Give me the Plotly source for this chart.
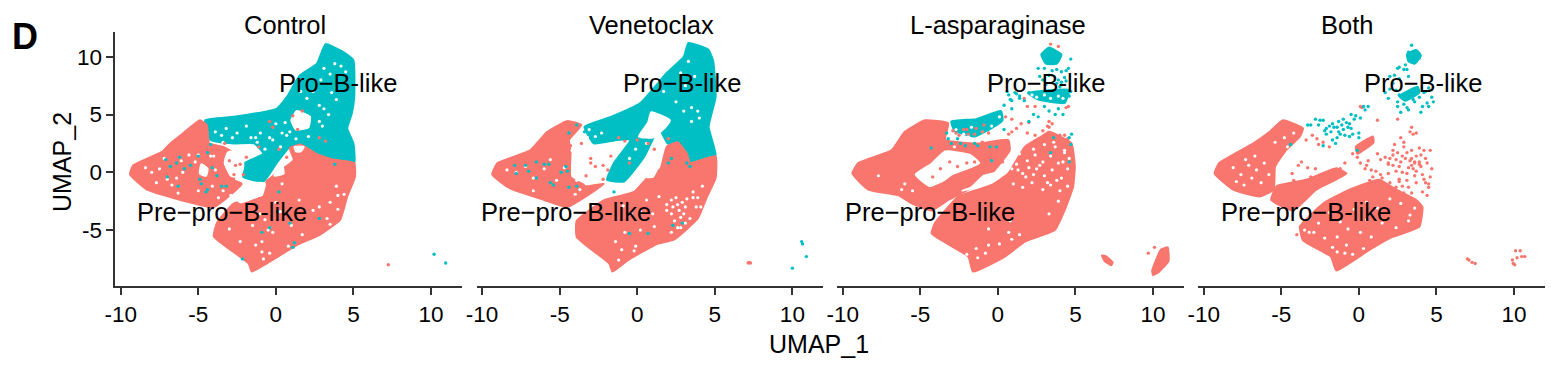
import plotly.graph_objects as go

PINK = "#F8766D"
TEAL = "#00BFC4"
panel_names = ["Control", "Venetoclax", "L-asparaginase", "Both"]
tick_values = [-10, -5, 0, 5, 10]
y_tick_values = [-5, 0, 5, 10]

# Hand-traced outlines of the solid parts of each cloud (UMAP_1, UMAP_2); not individual cells
control_teal = [[(3.2,11.1),(4.35,10.4),(5.0,9.7),(5.05,6.5),(4.9,5.1),(4.6,3.8),(5.0,2.5),(5.05,0.8),(3.7,1.0),(2.6,1.6),(1.6,2.4),(0.9,2.2),(0.05,0.8),(-0.8,-0.8),(-2.1,-0.4),(-2.0,0.8),(-0.8,1.6),(-1.4,2.5),(-2.7,2.5),(-4.2,2.8),(-4.55,4.5),(-2.7,4.8),(0.05,5.5),(0.7,6.5),(1.55,8.4),(2.65,9.4)]]
control_pink = [[(-9.4,-0.2),(-9.2,0.6),(-7.3,1.8),(-6.8,2.5),(-5.95,3.4),(-4.9,4.5),(-4.45,4.1),(-4.3,2.5),(-3.4,2.2),(-2.2,1.2),(-2.7,-0.65),(-2.2,-1.0),(-4,-3),(-6.15,-2.4),(-8.3,-1.5)],
                [(5.05,0.8),(5.1,-0.4),(4.6,-2.1),(4.15,-4.1),(2.85,-5.4),(1.35,-6.3),(-0.6,-7.9),(-1.55,-8.6),(-1.75,-7.9),(-4,-5.55),(-3.8,-4.4),(-2.7,-2.7),(-0.8,-2.1),(-0.6,-0.8),(1.15,1.05),(0.9,2.1),(1.6,2.4),(2.6,1.6),(3.7,1.1)]]
control_holes = [[(1.35,5.3),(2.2,4.8),(2.1,3.9),(1.3,3.7),(1.0,4.5)],
                 [(-3.1,1.7),(-2.2,1.9),(-2.1,0.5),(-2.3,-0.4),(-2.9,-0.3),(-3.3,0.8)],
                 [(-4.8,0.7),(-4.4,0.3),(-4.5,-0.3),(-4.9,-0.1)],
                 [(-2.5,-2.3),(-1.1,-0.9),(-0.7,-1.0),(-0.9,-1.9),(-2.3,-2.6)],
                 [(0.4,0.7),(0.5,-0.1),(-0.1,-0.3)],
                 [(1.2,2.2),(1.8,2.2),(1.6,1.8),(1.3,1.8)]]
control_gaps_x = [1.6,2.0,2.4,2.8,3.1,3.4,2.8,3.0,-0.4,-0.2,-1.2,-1.6,0.4,0.7,3.8,4.2,3.5,4.5,3.1,-2.5,-3.2,-1.9,0.0,1.3,4.0,3.5,4.0,2.4,1.0,-0.2,-0.4,-0.9,0.8,2.8,-8.0,-7.5,-7.0,-6.0,-6.4,-5.2,-5.6,-7.7,-3.4,-3.7,-4.1,-0.5,-0.9,0.3,1.7,3.3,-2.3,-1.5,-1.0,-3.0,-3.4,-2.9,0.6,0.9,0.3,-0.7,-1.0,-1.3,-2.8,-3.5,-3.9,-4.0,-6.7,-6.1,-5.0,-8.4,-7.2,-6.3,-5.0,-4.2,-3.9,3.6,3.9,2.9,2.1,1.5,0.4,-0.8,-1.3,-0.7,0.0,3.5,3.9,4.4]
control_gaps_y = [7.0,6.4,7.0,5.8,5.5,5.0,4.4,4.0,3.0,2.8,2.6,3.0,3.4,3.2,9.4,9.2,8.5,8.7,9.0,3.4,3.8,4.0,4.2,2.9,-2.0,-2.6,-3.2,-3.3,-4.6,-5.2,-7.0,-6.9,-6.4,-3.0,0.0,0.3,-0.6,0.0,-0.5,0.9,1.5,-0.9,-1.6,-2.2,-1.2,-5.0,-6.0,-3.4,-5.4,-4.0,-6.0,-4.6,-3.6,-4.9,2.6,-2.0,4.3,3.5,2.2,2.0,3.4,3.0,3.0,3.2,3.5,1.4,-1.1,1.0,-1.6,0.4,1.2,-1.8,1.5,1.4,0.2,6.9,6.3,8.0,3.1,-2.4,-1.0,-7.5,-6.3,-4.1,-2.6,-4.5,-1.2,-1.9]
control_pink_x = [7.25,0.2,0.7,1.4,1.7,2.8,-1.1,-2.6,-3.3,-0.4,-0.2,1.1,3.2,3.9,4.4,-1.9,-2.3,-2.7,-3.0,-3.3,-2.1]
control_pink_y = [-8.0,2.0,1.3,3.7,5.3,3.0,2.2,0.6,2.5,4.4,3.9,4.9,2.7,1.0,0.7,1.3,0.7,-0.2,1.0,0.1,-0.2]
control_teal_x = [10.2,10.95,-2.15,-7.1,-6.8,-6.4,-6.2,-5.9,-7.0,-6.3,-4.9,-4.8,-5.0,-4.4,-4.1,-3.8,-3.5,-3.2,-4.4,-4.5,-4.2,0.2,0.9,1.2,1.1,2.8,3.8,-0.4,-0.9,-5.5,0.1]
control_teal_y = [-7.1,-7.85,-7.5,1.1,0.5,0.8,1.3,0.3,-0.4,-1.2,-0.6,-1.0,1.4,1.7,0.4,-0.3,-1.2,-1.2,-1.5,-1.7,2.4,-1.7,-4.4,-6.1,-6.5,-4.0,0.7,-4.8,-5.2,0.6,-3.4]

venetoclax_teal = [[(3.3,11.2),(4.6,10.6),(4.9,9.6),(5.05,6.5),(4.6,3.95),(5.05,1.5),(4.5,0.8),(3.2,0.8),(2.8,2.2),(1.95,2.5),(1.4,3.8),(0.45,1.35),(-0.85,-0.8),(-1.95,-0.65),(-1.5,0.8),(-0.45,2.8),(-1.3,2.8),(-2.8,2.5),(-3.4,3.95),(-1.7,4.8),(0.2,6.0),(1.9,8.6),(3,10)]]
venetoclax_pink = [[(-9.35,-0.2),(-9,0.8),(-6.9,1.9),(-5.8,3.5),(-4.5,4.45),(-3.6,4.1),(-4.4,2.8),(-4.3,1.8),(-4.3,-0.4),(-3.2,-1.2),(-2.15,-1),(-4.5,-3),(-6,-2.4),(-8.2,-1.4)],
                   [(5.05,1.4),(5.05,-0.5),(4.5,-2.1),(3.9,-4),(2.4,-5.8),(1.3,-6.2),(-0.6,-7.6),(-1.6,-8.6),(-1.8,-7.9),(-3.9,-5.6),(-3.9,-4.2),(-2.1,-2.4),(-0.2,-1.7),(0.7,-0.4),(1.5,0.3),(1.9,2.2),(2.6,2.6),(3.2,1.6),(3.4,0.8)]]
venetoclax_holes = [[(0.9,5.2),(2.1,4.5),(1.8,3.9),(1.0,3.0),(0.1,3.1),(0.7,4.3)],
                    [(-3.5,1.6),(-2.7,2.0),(-1.9,1.4),(-2.6,0.5),(-3.2,0.0)],
                    [(-1.5,-1.1),(-0.6,-1.1),(-1.0,-1.6),(-1.8,-1.9)],
                    [(0.5,0.5),(1.3,0.4),(1.0,-0.4),(0.6,-0.4)]]
venetoclax_gaps_x = [1.7,2.8,3.3,3.7,3.1,2.5,3.0,-3.6,-3.1,-2.3,-4.0,-4.2,-3.2,-2.7,-1.0,-0.5,-0.1,0.6,1.3,-1.4,-1.0,-0.1,0.2,1.1,2.6,3.4,3.9,-7.8,-7.2,-6.7,-6.0,-5.2,-5.6,-6.7,-3.7,-4.0,-0.8,-0.2,-1.2,3.6,3.8,4.1,4.2,3.6,1.0,0.2,3.5,3.9,4.0,3.5,2.2,2.5,2.9,3.1,2.3,2.7,3.0,1.9,2.2,2.6,2.8,3.2,2.4,3.1,1.9,2.8,-8.4,-4.7,-3.9,-3.3,-0.4,-0.9,0.6,1.4,2.2]
venetoclax_gaps_y = [7.0,8.6,9.6,8.3,7.5,6.1,5.3,3.3,3.7,3.4,2.4,1.9,3.0,3.1,2.1,1.2,2.0,2.5,3.0,-6.0,-6.7,-6.4,-5.0,-4.7,-4.8,-4.0,-2.2,0.0,0.5,-0.5,0.3,-0.7,1.1,-1.6,-1.5,-1.9,-5.2,-6.8,-7.6,-1.7,-3.0,-3.0,-1.2,-2.2,-3.6,-3.4,5.6,5.3,4.7,4.4,-2.4,-2.2,-2.6,-3.0,-3.0,-3.3,-3.6,-2.8,-3.6,-2.8,-3.9,-2.3,-4.2,-4.4,-3.3,-4.8,0.2,0.4,-0.7,-1.0,-3.6,-2.9,-2.4,-2.1,-5.2]
venetoclax_pink_x = [7.2,7.15,7.3,-4.3,-3.6,-3.0,-2.7,-1.2,-0.8,0.0,0.7,1.1,-3.0,-3.3,-2.2,-1.9,-2.2,-4.4,-1.7,-0.5,1.9,2.0]
venetoclax_pink_y = [-7.8,-7.85,-7.85,2.3,2.5,1.2,0.5,3.0,2.7,2.8,2.5,2.0,0.8,-0.3,0.6,0.2,-0.6,0.4,1.4,0.8,-1.0,2.9]
venetoclax_teal_x = [10.6,10.65,10.9,10.0,-7.9,-7.2,-6.5,-6.0,-5.7,-7.8,-7.0,-6.5,-5.6,-5.4,-4.6,-4.5,-4.4,-3.9,-4.4,-3.4,-3.9,-4.9,2.3,2.9,-0.5,0.7,2.2,3.2,3.4,2.0,-1.5]
venetoclax_teal_y = [-6.0,-6.2,-7.3,-8.3,0.6,0.6,0.9,0.7,0.7,-0.1,0.1,-0.5,-0.9,-1.1,0.5,0.1,-1.3,-1.2,3.4,3.5,4.1,0.0,-4.6,-4.4,-5.3,-5.3,1.2,0.8,0.5,0.8,-1.7]

asparaginase_teal = [[(2.8,10.2),(3.3,10.8),(4.1,10.2),(3.8,9.4),(3.1,9.4)],
                     [(1.95,6.85),(3.3,7.1),(4.6,7.15),(4.3,6.0),(2.6,6.3)],
                     [(-3.0,4.4),(-1.4,4.6),(0.2,5.3),(0.3,4.5),(-0.7,3.6),(-1.5,3.1),(-2.8,3.6)]]
asparaginase_pink = [[(-9.38,-0.1),(-9,0.8),(-6.85,1.9),(-6,3.5),(-4.7,4.5),(-3.2,4.25),(-3.4,2.8),(-1.27,2.5),(0.67,2.8),(0.77,1.9),(-0.4,-0.1),(-1.9,-1.5),(-3.2,-2.4),(-4.27,-3.3),(-5.56,-2.7),(-6.4,-2),(-8.35,-1.5)],
                     [(0.67,-0.1),(1.74,2.2),(2.8,3.1),(3.3,3.5),(4.74,2.5),(4.96,0.5),(4.85,-1.25),(4.3,-3.3),(3.67,-5),(1.74,-6),(0.45,-7.3),(-1.6,-8.6),(-1.9,-7.3),(-4.27,-5.3),(-4.05,-4.4),(-2.55,-2.1),(-0.4,-1.1)],
                     [(6.7,-7.2),(7.0,-7.3),(7.4,-7.8),(7.3,-8.05),(6.9,-7.7)],
                     [(10.5,-6.7),(10.95,-6.5),(11,-7.7),(10.4,-8.6),(10,-8.9),(9.95,-8.5),(10.2,-7.6)]]
asparaginase_holes = [[(-3.4,1.8),(-1.8,1.5),(-1.2,0.8),(-3,-0.2),(-3.5,-0.7),(-4.4,-1.2),(-5.3,-0.2),(-4.3,0.7)],
                      [(-0.2,-0.65),(0.2,0.0),(-0.9,-0.3),(-1.7,-1.3),(-2.3,-1.6),(-1.4,-1.3)]]
asparaginase_gaps_x = [1.4,1.9,2.4,2.9,3.4,3.9,4.3,1.3,1.8,2.5,3.0,3.5,4.1,4.5,1.0,1.6,2.2,2.9,3.4,4.0,4.5,2.3,3.0,3.7,4.3,-0.8,-1.4,-2.0,-1.3,-0.6,0.1,0.9,-7.7,-6.2,-5.5,-6.0,-2.8,0.7,1.4,-0.6,3.3,0.8,3.9,1.2,2.0,2.7,3.2,3.8,1.6,2.3,4.2,0.9,3.6,4.6,-2.7,-2.2,-1.7,-1.0,-0.4,-2.9,-1.9,-0.9,-0.2,0.1,2.2,2.5,3.0,3.4,3.9,4.2]
asparaginase_gaps_y = [1.6,1.0,1.5,0.9,1.4,0.8,1.7,0.2,-0.4,0.3,-0.3,0.2,-0.5,0.3,-1.0,-1.3,-0.9,-1.5,-1.1,-1.6,-1.2,2.0,2.4,2.2,1.9,-7.0,-6.6,-7.1,-7.4,-6.3,-6.2,-5.8,-0.3,-1.5,-1.6,-1.0,2.2,-5.2,-5.4,-4.9,-3.6,-4.2,-2.5,0.7,0.4,0.6,-0.9,-0.7,-0.1,-0.2,0.9,0.3,2.6,1.2,3.7,3.3,3.9,3.5,4.0,3.0,3.1,3.0,3.6,4.8,6.7,6.5,6.7,6.4,6.6,6.4]
asparaginase_pink_x = [1.2,1.9,0.9,0.7,3.3,3.5,4.3,4.5,2.9,3.2,2.4,2.9,0.5,0.9,1.5,2.0,3.4,3.9,4.4,9.7,10.1,-1.0,-0.7,-0.2,0.3,4.55,4.5,3.3,3.6,4.0,2.4,1.9,1.7,-2.9,-2.5,-2.0,-1.5,-1.0,-2.7,-2.2,-1.4,-0.9,-0.6,-1.9,-4.2,-3.7,-3.1,-2.6,-2.0,-1.5]
asparaginase_pink_y = [3.8,3.4,4.6,3.3,3.9,4.2,3.2,2.8,3.6,4.0,3.2,3.0,4.8,3.5,4.2,4.3,11.1,10.9,5.6,-7.0,-6.5,2.6,1.6,1.1,0.9,5.7,2.9,4.4,3.3,3.2,5.7,5.7,6.4,3.6,3.2,3.7,3.3,3.5,3.4,3.7,3.8,4.1,3.4,3.3,-0.4,0.3,0.9,0.5,0.8,0.9]
asparaginase_teal_x = [4.7,4.55,4.4,4.75,4.6,4.7,4.6,3.8,4.1,4.3,3.5,3.9,4.1,2.6,2.7,3.0,3.3,2.9,3.1,3.8,4.0,4.4,3.0,3.3,3.7,4.2,3.9,2.3,2.6,2.0,1.2,0.6,0.9,1.4,0.4,0.9,0.4,-4.3,-3.2,-3.0,-2.6,-2.4,-2.1,-1.5,-1.3,-0.5,-0.1,-0.4,-3.3,3.4,3.6,1.4,1.7,2.0,4.6,4.7,0.7,0.8,1.1]
asparaginase_teal_y = [9.8,9.0,8.8,3.3,3.0,2.4,0.9,8.9,8.7,8.2,8.8,8.0,7.8,9.0,8.3,9.0,8.4,8.0,7.6,7.7,7.4,7.9,5.7,5.3,5.0,5.0,5.5,5.0,4.8,4.4,6.8,7.0,6.2,6.4,5.8,5.5,3.7,2.1,2.9,2.5,2.9,2.5,2.3,2.5,2.3,2.2,2.2,1.0,3.4,1.7,3.0,6.6,6.2,6.9,6.6,7.0,6.7,6.3,6.9]

both_teal = [[(3.1,10.2),(3.7,10.6),(4.0,10.1),(3.6,9.4),(3.2,9.6)],
             [(2.6,6.6),(3.8,7.4),(3.9,6.9),(3.0,6.2)]]
both_pink = [[(-9.3,-0.1),(-9,0.8),(-6.8,2.5),(-5.75,3.5),(-4.9,4.5),(-3.6,3.8),(-3.8,3.1),(-4.7,1.9),(-5.4,0.5),(-5.5,-1.5),(-6.4,-2.1),(-8.1,-1.5)],
             [(-5.65,-2.4),(-5.3,-1.2),(-3.4,-0.65),(-1.45,0.35),(-0.8,-0.1),(-2.75,-1.5),(-4.25,-3.3)],
             [(-0.2,2.2),(0.9,3.1),(0.95,2.6),(-0.1,1.6)],
             [(-3.8,-4.7),(-2.3,-2.7),(-0.6,-1.5),(1.3,-0.65),(2.4,-1.5),(3.7,-2.4),(4.1,-3),(3.9,-4.7),(2,-5.7),(0.7,-6.7),(-1.45,-8.5),(-1.8,-7.3),(-3.6,-5.9)]]
both_holes = []
both_gaps_x = [-8.1,-7.6,-7.1,-6.6,-7.9,-7.4,-6.9,-6.3,-7.3,-6.7,-6.1,-5.8,-5.4,-4.8,-4.2,-4.6,-1.2,-1.9,-2.6,-3.2,-0.3,0.5,1.2,2.0,2.7,3.3,-2.2,-1.4,-0.8,0.1,0.8,1.5,2.4,3.2,3.6,-0.4,-0.9,-1.4,0.3,-0.7,0.5,-1.7,-3.2,-2.9,-3.5]
both_gaps_y = [0.4,-0.2,0.6,0.2,-0.8,-1.1,-0.5,-0.9,1.1,1.4,0.8,-0.2,2.6,3.0,3.4,2.2,-4.3,-3.5,-4.4,-5.2,-3.2,-2.6,-3.1,-2.3,-2.7,-3.7,-5.7,-5.6,-6.3,-5.2,-5.6,-4.4,-4.8,-4.2,-3.1,-7.1,-7.0,-6.9,-6.6,-4.9,-4.1,-6.5,-4.0,-5.2,-5.0]
both_pink_x = [-3.4,-3.0,-2.7,-2.3,-1.9,-2.6,-1.2,-0.9,0.6,1.2,2.5,3.4,3.7,3.3,2.7,2.2,2.9,3.5,3.9,4.2,4.6,4.7,4.6,4.5,4.1,3.7,3.2,2.6,1.9,1.5,0.9,0.4,0.1,-0.4,-0.1,1.0,1.4,1.9,2.4,2.9,3.4,4.0,4.2,4.4,-3.9,-4.3,-4.2,-3.7,-3.3,-3.6,-3.1,-2.8,7.0,7.1,7.3,7.5,10.1,10.4,10.7,9.9,10.2,10.5,9.95,10.05,-4.0,0.2,0.1,-4.1,0.7,1.1,1.5,2.0,2.6,3.1,3.6,4.1,4.4,4.3,3.9,3.4,2.9,2.3,1.7,1.2,0.8,0.5,4.0,3.6,4.5,4.3,2.0,2.8,3.4,1.4,0.9,2.2,2.5,2.8,3.1,3.4,3.7,2.0,2.4,2.7,3.0,3.3,3.6,3.9,1.9,2.2,2.6,3.2,3.5,2.4,2.8,3.1,3.7]
both_pink_y = [2.8,3.2,2.9,2.6,2.2,2.4,0.3,0.8,1.0,4.5,4.6,3.9,3.4,3.5,3.0,1.9,2.6,3.3,2.1,1.9,1.9,0.3,-0.4,-1.0,-1.7,-0.9,-1.3,-0.8,-0.1,-0.5,-0.4,0.3,0.8,1.6,1.3,-1.0,1.1,0.8,-1.3,-1.8,-1.8,0.5,-0.6,-2.0,0.6,-0.1,-0.7,0.9,0.4,-1.1,-0.4,0.3,-7.5,-7.6,-7.8,-7.9,-6.8,-6.8,-7.3,-7.6,-7.4,-7.3,-7.9,-8.0,-5.4,5.6,5.7,-1.5,-0.7,0.1,-0.9,-0.9,-0.6,-0.7,-0.3,-0.2,0.8,1.2,0.9,1.9,2.2,2.4,1.3,1.6,0.2,0.6,1.5,0.9,-1.3,-0.9,-1.5,-1.2,0.6,-0.2,-1.2,1.5,1.7,1.4,1.7,1.2,1.4,1.2,1.1,0.9,1.2,1.0,0.8,0.7,0.7,0.6,0.5,0.4,0.3,0.1,0.0,-0.1,0.1]
both_teal_x = [3.4,3.2,3.5,3.7,3.9,3.0,2.6,2.9,3.1,3.2,2.5,2.6,2.3,2.0,2.2,2.0,1.7,1.9,2.4,2.6,3.0,3.3,3.6,3.9,4.2,4.5,4.7,4.4,4.1,4.5,3.2,3.1,2.7,2.9,3.2,2.5,2.5,3.5,4.3,4.0,4.8,0.3,0.4,0.6,-0.2,-0.5,0.1,-0.3,-0.5,-1.0,-1.3,-1.0,-0.8,-1.6,-1.8,-2.1,-2.3,-2.5,-3.1,-3.3,-2.8,-1.4,-1.7,-2.1,-2.2,-1.7,-1.3,-0.6,0.0,0.0,-0.4,-1.5,-2.3,-0.1,-4.4,-1.1,-0.7,-1.4,-1.9,-0.9,-0.6,-1.2,-2.6]
both_teal_y = [11.0,10.4,10.2,9.7,9.9,9.3,9.1,8.9,8.9,8.3,9.0,8.1,8.4,8.3,7.7,7.2,6.9,6.4,7.1,6.7,6.4,6.9,6.1,6.5,6.9,7.3,6.5,6.0,5.7,5.7,6.5,5.6,5.2,5.9,5.4,6.1,5.7,6.3,7.0,5.2,6.1,5.7,5.4,5.7,4.9,5.0,4.7,4.6,3.8,4.6,4.4,3.7,4.3,3.9,3.5,3.8,4.5,4.5,4.1,4.1,4.6,3.0,2.8,3.3,3.6,4.2,3.5,3.1,3.4,3.0,3.3,2.5,2.3,1.9,2.4,4.1,3.9,3.9,4.0,3.2,4.2,3.3,4.1]

pro_label_x = [4.03, 2.9, 3.13, 4.14]
pre_label_x = [-3.48, -4.6, -4.38, -3.39]
pro_label_y = 7.7
pre_label_y = -3.47

panels = [
    (control_teal, control_pink, control_holes, control_gaps_x, control_gaps_y, control_pink_x, control_pink_y, control_teal_x, control_teal_y),
    (venetoclax_teal, venetoclax_pink, venetoclax_holes, venetoclax_gaps_x, venetoclax_gaps_y, venetoclax_pink_x, venetoclax_pink_y, venetoclax_teal_x, venetoclax_teal_y),
    (asparaginase_teal, asparaginase_pink, asparaginase_holes, asparaginase_gaps_x, asparaginase_gaps_y, asparaginase_pink_x, asparaginase_pink_y, asparaginase_teal_x, asparaginase_teal_y),
    (both_teal, both_pink, both_holes, both_gaps_x, both_gaps_y, both_pink_x, both_pink_y, both_teal_x, both_teal_y),
]

W, H = 1560, 372
left_px = [115.3, 476.7, 837.3, 1198.3]
width_px = 346.7
top_px, bottom_px = 32.3, 285.7
FONT = "Liberation Sans"
INK = "#333333"

fig = go.Figure()


def polygons(rings, color, axis):
    for ring in rings:
        xs = [p[0] for p in ring] + [ring[0][0]]
        ys = [p[1] for p in ring] + [ring[0][1]]
        fig.add_trace(go.Scatter(x=xs, y=ys, mode="lines", fill="toself", fillcolor=color,
                                 line=dict(color=color, width=2, shape="spline", smoothing=0.4), hoverinfo="skip",
                                 xaxis="x" + axis, yaxis="y" + axis))


def dots(xs, ys, color, axis, size=3.4):
    fig.add_trace(go.Scatter(x=xs, y=ys, mode="markers", marker=dict(color=color, size=size),
                             hoverinfo="skip", xaxis="x" + axis, yaxis="y" + axis))


layout = {}
annotations = []
for i, panel in enumerate(panels):
    axis = "" if i == 0 else str(i + 1)
    teal, pink, holes, gx, gy, px, py, tx, ty = panel
    polygons(pink, PINK, axis) if i == 2 else None
    polygons(teal, TEAL, axis)
    if i != 2:
        polygons(pink, PINK, axis)
    polygons(holes, "white", axis)
    dots(gx, gy, "white", axis, 3.2)
    dots(px, py, PINK, axis)
    dots(tx, ty, TEAL, axis)

    layout["xaxis" + axis] = dict(
        domain=[left_px[i] / W, (left_px[i] + width_px) / W], range=[-10.35, 12.0],
        tickvals=tick_values, ticktext=[str(v) for v in tick_values], showgrid=False, zeroline=False,
        showline=True, linecolor=INK, linewidth=1.7, ticks="outside", ticklen=7, tickwidth=1.7,
        tickcolor=INK, tickfont=dict(family=FONT, size=22.5, color="black"), anchor="y" + axis, automargin=False)
    layout["yaxis" + axis] = dict(
        domain=[1 - bottom_px / H, 1 - top_px / H], range=[-9.82, 12.12],
        tickvals=y_tick_values if i == 0 else [], ticktext=[str(v) for v in y_tick_values] if i == 0 else [],
        showgrid=False, zeroline=False, showline=i == 0, linecolor=INK, linewidth=1.7,
        ticks="outside" if i == 0 else "", ticklen=7, tickwidth=1.7, tickcolor=INK,
        tickfont=dict(family=FONT, size=22.5, color="black"), anchor="x" + axis, automargin=False)
    annotations.append(dict(text="Pro\u2212B-like", x=pro_label_x[i], y=pro_label_y, xref="x" + axis, yref="y" + axis,
                            showarrow=False, font=dict(family=FONT, size=25.5, color="black")))
    annotations.append(dict(text="Pre\u2212pro\u2212B-like", x=pre_label_x[i], y=pre_label_y, xref="x" + axis, yref="y" + axis,
                            showarrow=False, font=dict(family=FONT, size=25.5, color="black")))

title_px = [284.5, 651, 998, 1347]
for name, cx in zip(panel_names, title_px):
    annotations.append(dict(text=name, x=cx / W, y=1 - 25 / H, xref="paper", yref="paper", showarrow=False,
                            xanchor="center", yanchor="middle", font=dict(family=FONT, size=25.5, color="black")))
annotations.append(dict(text="UMAP_1", x=819 / W, y=1 - 344 / H, xref="paper", yref="paper", showarrow=False,
                        xanchor="center", yanchor="middle", font=dict(family=FONT, size=25, color="black")))
annotations.append(dict(text="UMAP_2", x=62 / W, y=1 - 162 / H, xref="paper", yref="paper", showarrow=False,
                        xanchor="center", yanchor="middle", textangle=-90, font=dict(family=FONT, size=25, color="black")))
annotations.append(dict(text="<b>D</b>", x=25 / W, y=1 - 36 / H, xref="paper", yref="paper", showarrow=False,
                        xanchor="center", yanchor="middle", font=dict(family=FONT, size=36, color="black")))

fig.update_layout(width=W, height=H, margin=dict(l=0, r=0, t=0, b=0), showlegend=False,
                  plot_bgcolor="white", paper_bgcolor="white", annotations=annotations, **layout)
fig.write_html("out.html", config={"displayModeBar": False},
               post_script="document.body.style.margin='0';document.documentElement.style.overflow='hidden';")
